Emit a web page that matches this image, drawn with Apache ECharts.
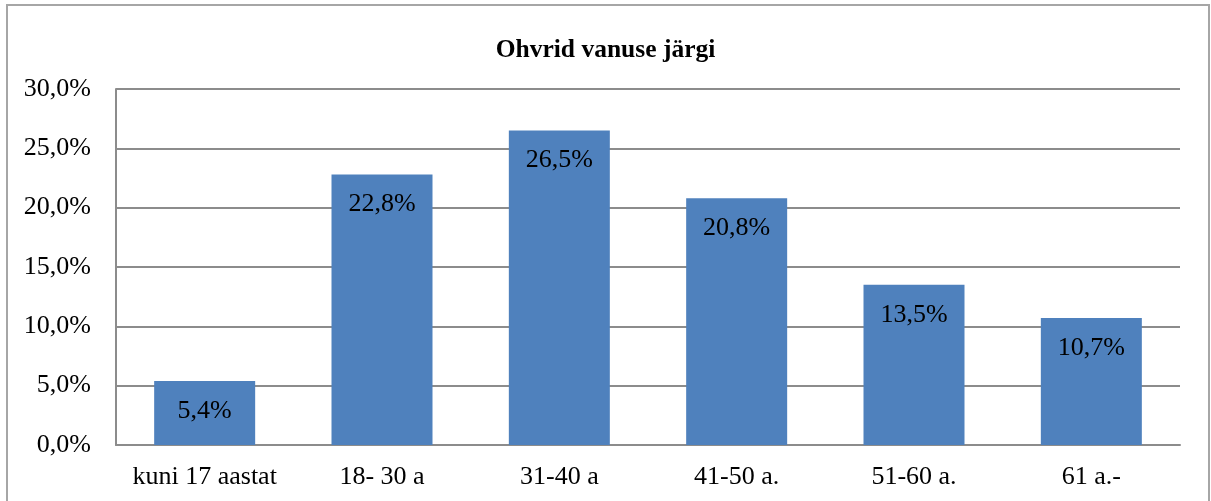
<!DOCTYPE html>
<html>
<head>
<meta charset="utf-8">
<script src="https://cdn.jsdelivr.net/npm/echarts@6/dist/echarts.min.js"></script>
<style>
html,body{margin:0;padding:0;background:#fff;}
#c{width:1211px;height:501px;}
</style>
</head>
<body>
<div id="c"></div>
<script>
const categories = ['kuni 17 aastat', '18- 30 a', '31-40 a', '41-50 a.', '51-60 a.', '61 a.-'];
const values = [5.4, 22.8, 26.5, 20.8, 13.5, 10.7];
const yTicks = [0, 5, 10, 15, 20, 25, 30];
const titleText = 'Ohvrid vanuse järgi';

const fmt = v => v.toFixed(1).replace('.', ',') + '%';
const font = '"Liberation Serif", "Times New Roman", serif';

const chart = echarts.init(document.getElementById('c'), null, {renderer: 'canvas'});
chart.setOption({
  animation: false,
  backgroundColor: '#fff',
  title: {
    text: titleText,
    left: 'center',
    top: 32,
    textStyle: {fontFamily: font, fontSize: 25.5, fontWeight: 'bold', color: '#000'}
  },
  graphic: [{
    type: 'rect',
    shape: {x: 7, y: 5, width: 1202, height: 520},
    style: {fill: 'none', stroke: '#a6a6a6', lineWidth: 2},
    silent: true
  }],
  grid: {left: 116, right: 31, top: 89, bottom: 56, containLabel: false},
  xAxis: {
    type: 'category',
    data: categories,
    axisLine: {show: true, lineStyle: {color: '#8c8c8c', width: 2}},
    axisTick: {show: false},
    axisLabel: {fontFamily: font, fontSize: 26, color: '#000', margin: 19, interval: 0}
  },
  yAxis: {
    type: 'value',
    min: yTicks[0],
    max: yTicks[yTicks.length - 1],
    interval: 5,
    axisLine: {show: true, lineStyle: {color: '#8c8c8c', width: 2}},
    axisTick: {show: false},
    splitLine: {show: true, lineStyle: {color: '#8c8c8c', width: 2}},
    axisLabel: {fontFamily: font, fontSize: 26, color: '#000', margin: 25, formatter: v => fmt(v)}
  },
  series: [{
    type: 'bar',
    data: values,
    barWidth: 101,
    itemStyle: {color: '#4F81BD'},
    label: {
      show: true,
      position: 'insideTop',
      distance: 17,
      fontFamily: font,
      fontSize: 26,
      color: '#000',
      formatter: p => fmt(p.value)
    }
  }]
});
</script>
</body>
</html>
